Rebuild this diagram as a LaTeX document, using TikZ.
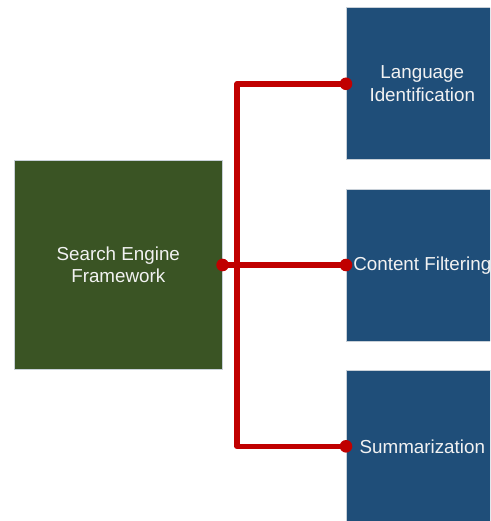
\documentclass[tikz,border=0pt]{standalone}
\usepackage{fontspec}
\setmainfont{Liberation Sans}
\definecolor{fwgreen}{RGB}{58,84,36}
\definecolor{taskblue}{RGB}{31,78,121}
\definecolor{linkred}{RGB}{192,0,0}
\definecolor{boxedge}{RGB}{200,208,216}
\definecolor{boxtext}{RGB}{242,242,242}
\begin{document}
\begin{tikzpicture}[x=1pt,y=-1pt,
  boxbase/.style={draw=boxedge, line width=0.6pt, text=boxtext, align=center, inner sep=0pt,
    font=\fontsize{18.8}{22.5}\selectfont},
  fwbox/.style={boxbase, fill=fwgreen, minimum width=208pt, minimum height=209pt},
  taskbox/.style={boxbase, fill=taskblue, minimum width=152pt, minimum height=152pt},
  link/.style={draw=linkred, line width=5.5pt},
  dot/.style={circle, fill=linkred, inner sep=0pt, minimum size=12.6pt}]
\useasboundingbox (0,0) rectangle (490,521);
\clip (0,0) rectangle (490,521);
\node[fwbox, anchor=north west] (fw) at (14,160) {Search Engine\\Framework};
\node[taskbox, anchor=north west] (lang) at (346,7.5) {Language\\Identification};
\node[taskbox, anchor=north west] (filt) at (346,189) {Content Filtering};
\node[taskbox, anchor=north west] (summ) at (346,370) {Summarization};
\coordinate (jx) at (237,265);
\draw[link] (fw.east |- jx) -- (filt.west |- jx);
\draw[link, line join=round] (lang.west) -| (jx) |- (summ.west);
\node[dot] at (fw.east |- jx) {};
\node[dot] at (lang.west) {};
\node[dot] at (filt.west |- jx) {};
\node[dot] at (summ.west) {};
\end{tikzpicture}
\end{document}
